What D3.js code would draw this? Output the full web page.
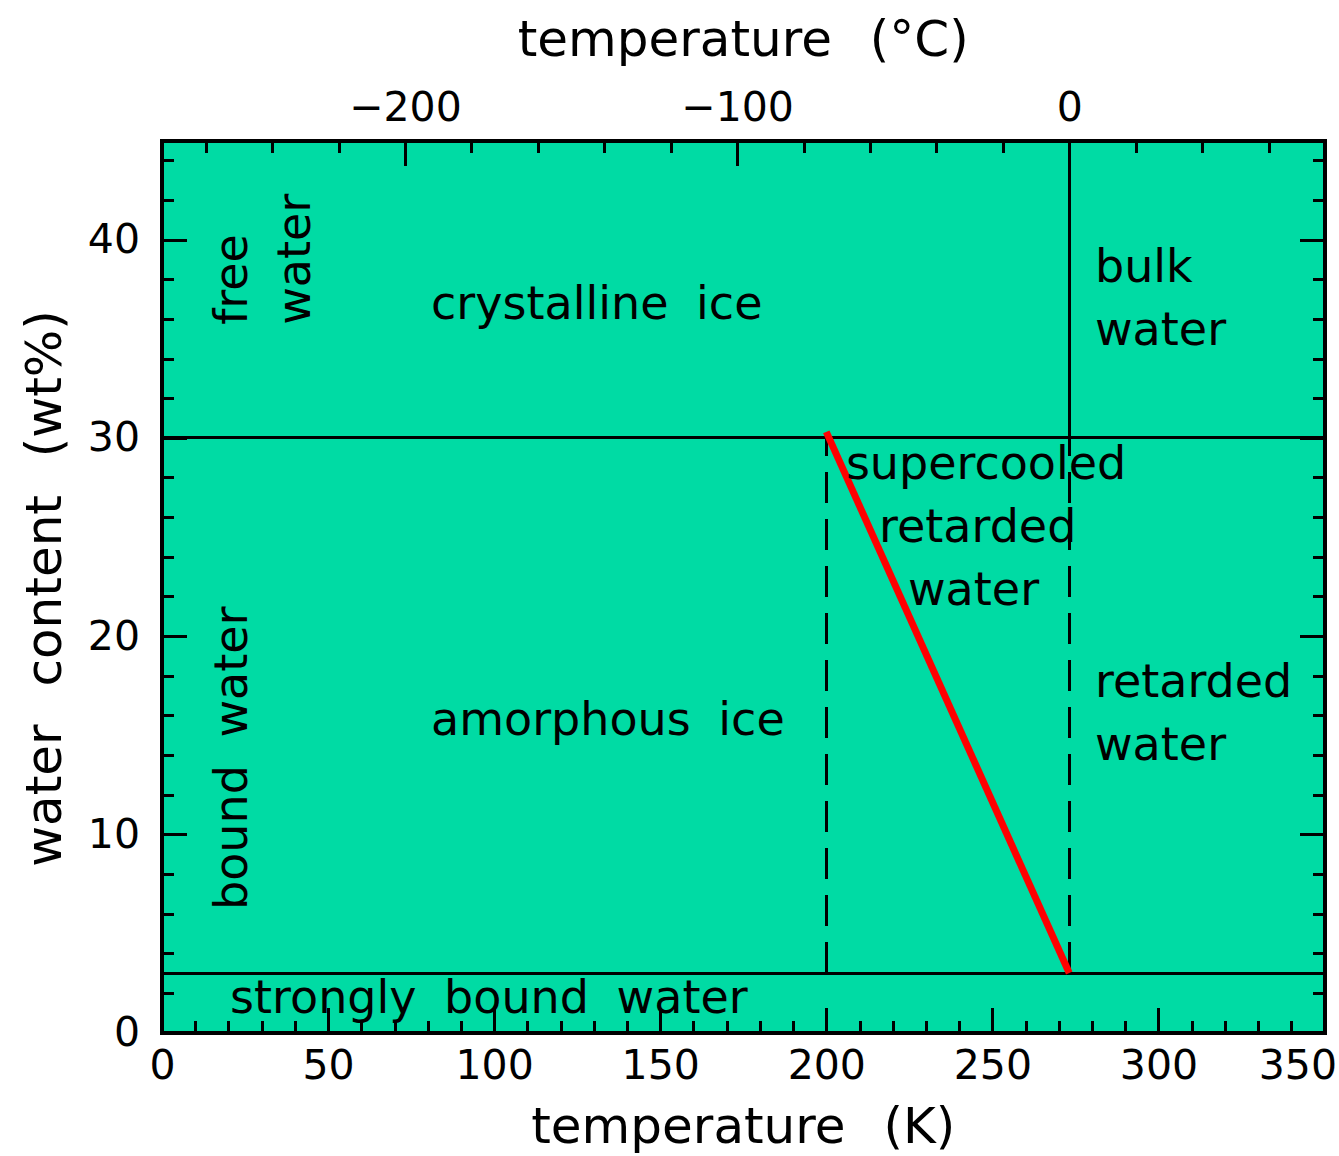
<!DOCTYPE html>
<html>
<head>
<meta charset="utf-8">
<script src="https://cdn.jsdelivr.net/npm/d3@7"></script>
<style>
  body { margin: 0; background: #ffffff; }
  text { font-family: "DejaVu Sans", sans-serif; fill: #000; }
</style>
</head>
<body>
<svg id="chart" width="1339" height="1156"></svg>
<script>
// Temperature axis (K) and water content axis (wt%)
const kelvinDomain = [0, 350];
const waterDomain = [0, 45];
const ZERO_CELSIUS = 273.15;

const kelvinMajor = [0, 50, 100, 150, 200, 250, 300, 350];
const kelvinMinor = d3.range(0, 351, 10);
const celsiusMajor = [-200, -100, 0];
const celsiusMinor = d3.range(-260, 61, 20);
const waterMajor = [0, 10, 20, 30, 40];
const waterMinor = d3.range(0, 45, 2);

// Phase boundaries
const boundaryContents = [30, 3];          // wt%, full-width solid lines
const freezingK = ZERO_CELSIUS;            // solid above 30 wt%
const dashedKelvins = [200, ZERO_CELSIUS]; // dashed between 3 and 30 wt%

// Glass transition line (K, wt%)
const glassLineK = [200, 273.15];
const glassLineW = [30.3, 3];

// Region labels: text, temperature (K), water content (wt%), vertical?
const labelText = ["crystalline ice", "amorphous ice", "free", "water", "bound water",
                   "bulk", "water", "supercooled", "retarded", "water",
                   "retarded", "water", "strongly bound water"];
const labelK = [81, 81, 25.6, 44.6, 25.6, 280.9, 280.9, 205.9, 215.9, 224.6, 280.9, 280.9, 20.5];
const labelW = [36.0, 15.0, 35.7, 35.7, 6.18, 37.86, 34.68, 27.92, 24.75, 21.57, 16.93, 13.75, 0.98];
const labelVertical = [false, false, true, true, true, false, false, false, false, false, false, false, false];

const svg = d3.select("#chart");
const x = d3.scaleLinear().domain(kelvinDomain).range([162, 1324.5]);
const xC = d3.scaleLinear()
  .domain(kelvinDomain.map(k => k - ZERO_CELSIUS))
  .range([162, 1324.5]);
const y = d3.scaleLinear().domain(waterDomain).range([1032.5, 140.5]);

const [x0, x1] = x.range();
const [yb, yt] = y.range();

// Background of the plotting area
svg.append("rect")
  .attr("x", x0).attr("y", yt)
  .attr("width", x1 - x0).attr("height", yb - yt)
  .attr("fill", "#00dba4");

const ink = svg.append("g").attr("stroke", "#000").attr("shape-rendering", "crispEdges");

// Horizontal boundaries
ink.selectAll("line.hb").data(boundaryContents).join("line")
  .attr("x1", x0).attr("x2", x1)
  .attr("y1", d => y(d)).attr("y2", d => y(d))
  .attr("stroke-width", 3);

// Freezing point above 30 wt%
ink.append("line")
  .attr("x1", x(freezingK)).attr("x2", x(freezingK))
  .attr("y1", y(boundaryContents[0])).attr("y2", yt)
  .attr("stroke-width", 3);

// Dashed boundaries of the supercooled region
ink.selectAll("line.db").data(dashedKelvins).join("line")
  .attr("x1", d => x(d)).attr("x2", d => x(d))
  .attr("y1", y(boundaryContents[1])).attr("y2", y(boundaryContents[0]))
  .attr("stroke-width", 3)
  .attr("stroke-dasharray", "31,16");

// Glass transition line
const glassPts = glassLineK.map((k, i) => [k, glassLineW[i]]);
svg.append("path")
  .datum(glassPts)
  .attr("d", d3.line().x(d => x(d[0])).y(d => y(d[1])))
  .attr("fill", "none")
  .attr("stroke", "#ff0000")
  .attr("stroke-width", 7);

// Axes
function styleAxis(g, fontSize) {
  g.select(".domain").remove();
  g.selectAll(".tick line").attr("stroke", "#000").attr("stroke-width", 3)
    .attr("shape-rendering", "crispEdges");
  g.selectAll("text").attr("font-size", fontSize)
    .attr("font-family", "DejaVu Sans").attr("fill", "#000");
}
const tickFont = 41;

// Bottom, Kelvin
svg.append("g").attr("transform", `translate(0,${yb})`)
  .call(d3.axisBottom(x).tickValues(kelvinMinor).tickSize(-12).tickFormat(""))
  .call(g => styleAxis(g, tickFont));
const bottomAxis = svg.append("g").attr("transform", `translate(0,${yb})`)
  .call(d3.axisBottom(x).tickValues(kelvinMajor).tickSize(-25).tickPadding(17).tickFormat(d3.format("d")))
  .call(g => styleAxis(g, tickFont));
// keep the last label inside the page
bottomAxis.selectAll(".tick text").filter(d => d === kelvinMajor[kelvinMajor.length - 1])
  .attr("text-anchor", "end").attr("x", 12);

// Top, Celsius
svg.append("g").attr("transform", `translate(0,${yt})`)
  .call(d3.axisTop(xC).tickValues(celsiusMinor).tickSize(-12).tickFormat(""))
  .call(g => styleAxis(g, tickFont));
svg.append("g").attr("transform", `translate(0,${yt})`)
  .call(d3.axisTop(xC).tickValues(celsiusMajor).tickSize(-25).tickPadding(20).tickFormat(d3.format("d")))
  .call(g => styleAxis(g, tickFont));

// Left, water content
svg.append("g").attr("transform", `translate(${x0},0)`)
  .call(d3.axisLeft(y).tickValues(waterMinor).tickSize(-12).tickFormat(""))
  .call(g => styleAxis(g, tickFont));
svg.append("g").attr("transform", `translate(${x0},0)`)
  .call(d3.axisLeft(y).tickValues(waterMajor).tickSize(-25).tickPadding(22).tickFormat(d3.format("d")))
  .call(g => styleAxis(g, tickFont));

// Right, mirrored ticks
svg.append("g").attr("transform", `translate(${x1},0)`)
  .call(d3.axisRight(y).tickValues(waterMinor).tickSize(-12).tickFormat(""))
  .call(g => styleAxis(g, tickFont));
svg.append("g").attr("transform", `translate(${x1},0)`)
  .call(d3.axisRight(y).tickValues(waterMajor).tickSize(-25).tickFormat(""))
  .call(g => styleAxis(g, tickFont));

// Frame
svg.append("rect")
  .attr("x", x0).attr("y", yt)
  .attr("width", x1 - x0).attr("height", yb - yt)
  .attr("fill", "none").attr("stroke", "#000").attr("stroke-width", 4)
  .attr("shape-rendering", "crispEdges");

// Axis titles
const titleFont = 50;
svg.append("text")
  .attr("x", (x0 + x1) / 2).attr("y", 1143)
  .attr("text-anchor", "middle").attr("font-size", titleFont)
  .style("word-spacing", "22px")
  .text("temperature (K)");
svg.append("text")
  .attr("x", (x0 + x1) / 2).attr("y", 56)
  .attr("text-anchor", "middle").attr("font-size", titleFont)
  .style("word-spacing", "22px")
  .text("temperature (°C)");
svg.append("text")
  .attr("transform", `translate(61,${(yb + yt) / 2 + 2}) rotate(-90)`)
  .attr("text-anchor", "middle").attr("font-size", titleFont)
  .style("word-spacing", "22px")
  .text("water content (wt%)");

// Region labels
const regionFont = 46;
const labels = labelText.map((t, i) => ({ t, k: labelK[i], w: labelW[i], v: labelVertical[i] }));
svg.append("g").selectAll("text").data(labels).join("text")
  .attr("transform", d => `translate(${x(d.k)},${y(d.w)})` + (d.v ? " rotate(-90)" : ""))
  .attr("font-size", regionFont)
  .style("word-spacing", "13px")
  .text(d => d.t);
</script>
</body>
</html>
